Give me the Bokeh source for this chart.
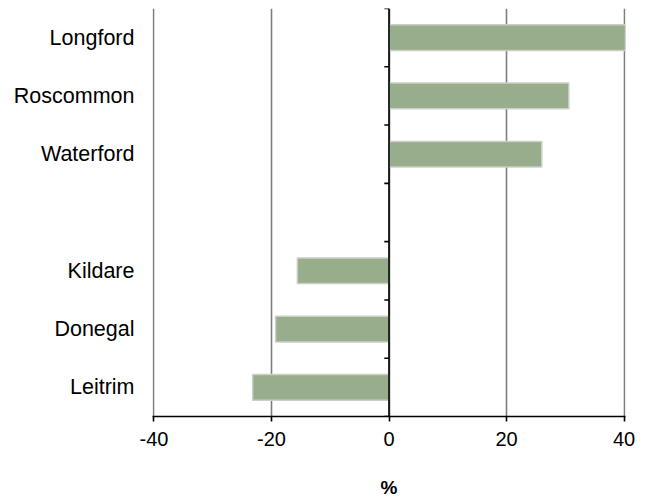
from bokeh.plotting import figure
from bokeh.models import Range1d, FixedTicker, Span
from bokeh.embed import file_html
from bokeh.resources import INLINE

# ---- data (top to bottom; blank slot separates groups) ----
categories = ["Longford", "Roscommon", "Waterford", "", "Kildare", "Donegal", "Leitrim"]
bar_categories = ["Longford", "Roscommon", "Waterford", "Kildare", "Donegal", "Leitrim"]
bar_values = [40.4, 30.6, 26.0, -15.6, -19.3, -23.2]
x_ticks = [-40, -20, 0, 20, 40]
x_tick_labels = ["-40", "-20", "0", "20", "40"]
x_label = "%"

FONT = "Liberation Sans"
BAR = "#98ad8c"
TICK_LEN = 0.8  # zero-axis tick length, in x units (~5px)

n = len(categories)
slot_center = {c: n - 0.5 - i for i, c in enumerate(categories)}
bar_y = [slot_center[c] for c in bar_categories]
boundaries = list(range(n + 1))

p = figure(
    width=640, height=500,
    y_range=Range1d(0, n),
    x_range=Range1d(x_ticks[0] - 0.25, x_ticks[-1] + 0.25),
    output_backend="svg", toolbar_location=None,
    min_border_left=152, min_border_right=15, min_border_top=8, min_border_bottom=83,
)
p.outline_line_color = None
p.background_fill_color = "white"
p.border_fill_color = "white"

# grid
p.ygrid.grid_line_color = None
p.xgrid.ticker = FixedTicker(ticks=x_ticks)
p.xgrid.grid_line_color = "#7d7d7d"
p.xgrid.grid_line_width = 1.6

# bars (faint shadow edge + fill)
p.hbar(y=bar_y, left=0, right=bar_values, height=0.44,
       fill_color=BAR, line_color="#c9d0c5", line_width=1.5)

# zero axis line and boundary ticks
p.add_layout(Span(location=0, dimension="height", line_color="#000000", line_width=1.6))
p.segment(x0=[0] * len(boundaries), y0=boundaries,
          x1=[-TICK_LEN] * len(boundaries), y1=boundaries,
          line_color="#000000", line_width=1.6)

# x axis
xa = p.xaxis[0]
xa.ticker = FixedTicker(ticks=x_ticks)
xa.major_label_overrides = dict(zip(x_ticks, x_tick_labels))
xa.axis_line_color = "#000000"
xa.axis_line_width = 1.6
xa.major_tick_line_color = "#000000"
xa.major_tick_line_width = 1.6
xa.major_tick_out = 5
xa.major_tick_in = 0
xa.minor_tick_line_color = None
xa.major_label_text_font = FONT
xa.major_label_text_font_size = "20px"
xa.major_label_text_color = "#000000"
xa.major_label_standoff = 10
xa.axis_label = x_label
xa.axis_label_text_font = FONT
xa.axis_label_text_font_size = "19px"
xa.axis_label_text_font_style = "bold"
xa.axis_label_text_color = "#000000"
xa.axis_label_standoff = 28

# category label axis
named = [c for c in categories if c]
ya = p.yaxis[0]
ya.ticker = FixedTicker(ticks=[slot_center[c] for c in named])
ya.major_label_overrides = {slot_center[c]: c for c in named}
ya.axis_line_color = None
ya.major_tick_line_color = None
ya.minor_tick_line_color = None
ya.major_label_text_font = FONT
ya.major_label_text_font_size = "21.5px"
ya.major_label_text_color = "#000000"
ya.major_label_standoff = 12

open("out.html", "w").write(file_html(p, INLINE))
